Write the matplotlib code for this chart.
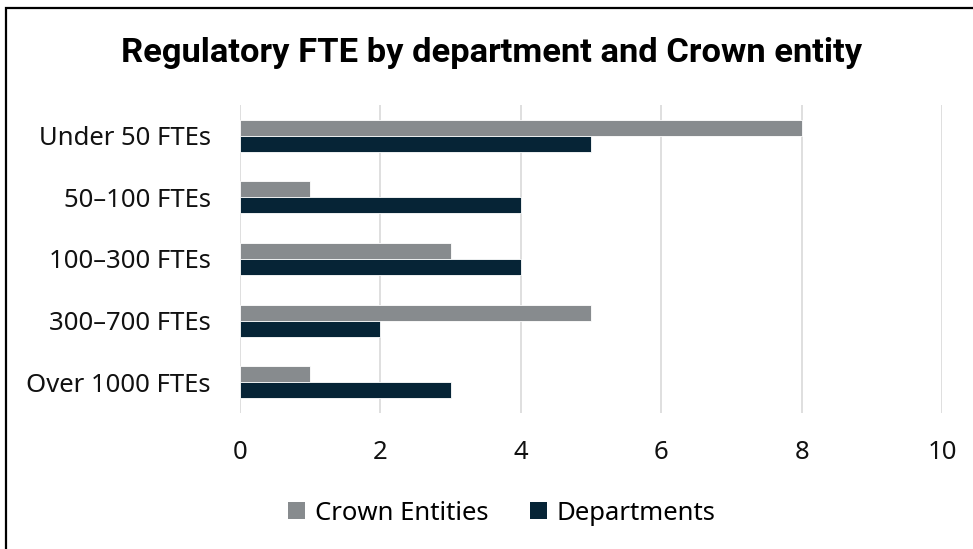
import matplotlib
matplotlib.use("Agg")
import matplotlib.pyplot as plt
from matplotlib.patches import Rectangle, Patch
import numpy as np

plt.rcParams['font.family'] = ['Noto Sans', 'DejaVu Sans']

categories = ["Under 50 FTEs", "50–100 FTEs", "100–300 FTEs", "300–700 FTEs", "Over 1000 FTEs"]
crown_entities = [8, 1, 3, 5, 1]
departments = [5, 4, 4, 2, 3]
x_ticks = [0, 2, 4, 6, 8, 10]

grey = "#878B8E"
navy = "#062436"

fig = plt.figure(figsize=(9.73, 5.49), dpi=100)
W, H = 973, 549
ax = fig.add_axes([240 / W, 1 - 413 / H, (942 - 240) / W, (413 - 105) / H])

y = np.arange(len(categories))
h = 0.26
ax.barh(y - h / 2, crown_entities, height=h, color=grey, edgecolor="white", linewidth=0.6, zorder=3)
ax.barh(y + h / 2, departments, height=h, color=navy, edgecolor="white", linewidth=0.6, zorder=3)

ax.set_xlim(0, 10)
ax.set_ylim(len(categories) - 0.5, -0.5)
ax.set_yticks(y)
ax.set_yticklabels(categories, fontsize=18.5)
ax.set_xticks(x_ticks)
ax.set_xticklabels([str(t) for t in x_ticks], fontsize=18.5)
ax.tick_params(axis="both", length=0, colors="#111111")
ax.tick_params(axis="y", pad=21)
ax.tick_params(axis="x", pad=19.5)
ax.grid(axis="x", color="#D9D9D9", linewidth=1.2, zorder=0)
for s in ax.spines.values():
    s.set_visible(False)

fig.text(492 / W, 1 - 53 / H, "Regulatory FTE by department and Crown entity",
         ha="center", va="center", fontsize=24.8, fontweight="bold", color="#000000",
         family=["Roboto", "DejaVu Sans"])

handles = [Patch(facecolor=grey, label="Crown Entities"), Patch(facecolor=navy, label="Departments")]
fig.legend(handles=handles, loc="center", bbox_to_anchor=(502 / W, 1 - 513 / H), ncol=2,
           frameon=False, fontsize=18.5, handlelength=0.65, handleheight=0.65,
           handletextpad=0.4, columnspacing=1.6)

fig.patches.append(Rectangle((6 / W, -0.05), 1.1, 1 - 7.5 / H + 0.05, transform=fig.transFigure,
                             fill=False, edgecolor="#000000", linewidth=1.6, clip_on=False))

fig.savefig("out.png", dpi=100)
